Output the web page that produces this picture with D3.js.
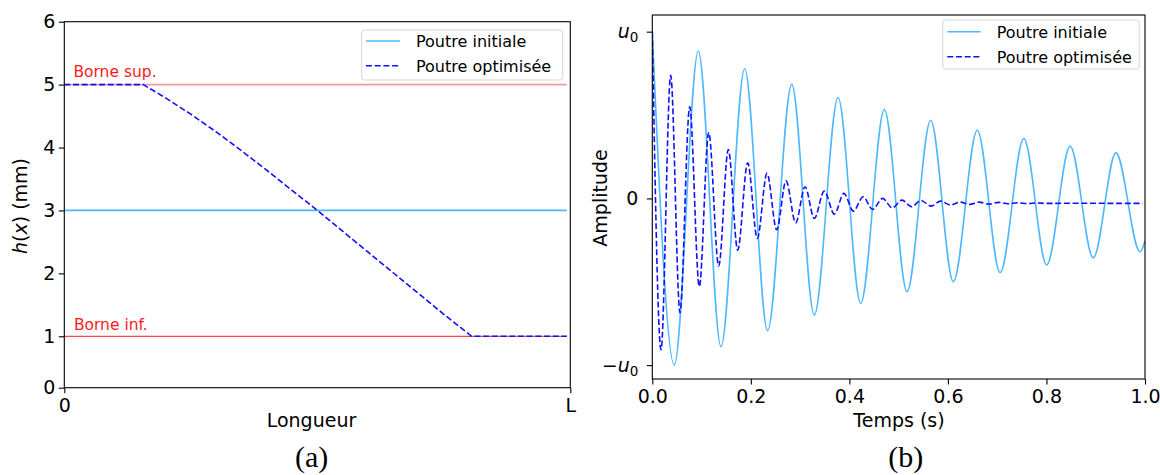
<!DOCTYPE html>
<html><head><meta charset="utf-8">
<script src="https://cdn.jsdelivr.net/npm/d3@7"></script>
<style>body{margin:0;background:#fff} svg text{font-family:"DejaVu Sans",sans-serif}</style>
</head><body><svg id="c" width="1160" height="475"></svg>
<script>
// ---------- Panel (a) data ----------
const lengthPos   = [0, 0.156, 0.20, 0.25, 0.30, 0.35, 0.40, 0.45, 0.505, 0.55, 0.60, 0.65, 0.70, 0.75, 0.805, 0.993];
const hOptimized  = [5, 5, 4.79, 4.53, 4.25, 3.95, 3.64, 3.32, 2.97, 2.67, 2.34, 2.01, 1.68, 1.35, 1.0, 1.0];
const lengthEnds  = [0, 0.993];
const hInitial    = [3, 3];
const boundSup    = 5;
const boundInf    = 1;
const hTicks      = [0, 1, 2, 3, 4, 5, 6];
const lengthTicks = [0, 1];
const lengthTickLabels = ["0", "L"];

// ---------- Panel (b) data ----------
const timeInitial = [0, 0.0447, 0.0934, 0.1394, 0.1875, 0.234, 0.283, 0.3288, 0.377, 0.423, 0.471,
  0.517, 0.565, 0.611, 0.6596, 0.706, 0.754, 0.8005, 0.848, 0.895, 0.941, 0.990, 1.0];
const ampInitial  = [1.0, -0.998, 0.884, -0.889, 0.778, -0.793, 0.684, -0.699, 0.605, -0.629, 0.533,
  -0.559, 0.469, -0.499, 0.409, -0.445, 0.359, -0.399, 0.313, -0.356, 0.273, -0.320, -0.255];
const timeOptimized = [0, 0.0177, 0.0373, 0.0562, 0.0759, 0.0954, 0.1145, 0.1348, 0.1543, 0.1733,
  0.1936, 0.2131, 0.2328, 0.2525, 0.2714, 0.291, 0.310, 0.3288, 0.349, 0.3694, 0.389, 0.408, 0.428,
  0.447, 0.4676, 0.487, 0.507, 0.5265, 0.545, 0.566, 0.585, 0.6056, 0.6245, 0.644, 0.6635, 0.683,
  0.703, 0.722, 0.742, 0.762, 0.78, 0.80, 0.85, 0.90, 0.95, 0.995];
const ampOptimized  = [1.0, -0.908, 0.738, -0.685, 0.549, -0.529, 0.395, -0.405, 0.293, -0.310,
  0.213, -0.240, 0.150, -0.188, 0.105, -0.146, 0.070, -0.120, 0.044, -0.094, 0.030, -0.076, 0.010,
  -0.066, 0.000, -0.056, -0.010, -0.050, -0.012, -0.046, -0.016, -0.040, -0.022, -0.036, -0.022, -0.034,
  -0.024, -0.032, -0.026, -0.031, -0.027, -0.030, -0.029, -0.029, -0.030, -0.030];
const timeTicks = [0, 0.2, 0.4, 0.6, 0.8, 1.0];
const ampTicks  = [-1, 0, 1];
const seriesNames = ["Poutre initiale", "Poutre optimisée"];

const colInit = "#4db8ff", colOpt = "#1010ff";
const svg = d3.select("#c");

function frame(x0, x1, y0, y1) {
  svg.append("rect").attr("x", x0).attr("y", y0).attr("width", x1 - x0).attr("height", y1 - y0)
    .attr("fill", "none").attr("stroke", "#000").attr("stroke-width", 1.1);
}
function styleAxis(g) {
  g.select(".domain").remove();
  g.selectAll(".tick line").attr("stroke", "#000").attr("stroke-width", 1.1);
  g.selectAll(".tick text").attr("fill", "#000").attr("font-size", 19).attr("font-family", "DejaVu Sans");
}
function legend(x0, y0, w, h, rowY, hx0, hx1, tx) {
  const g = svg.append("g");
  g.append("rect").attr("x", x0).attr("y", y0).attr("width", w).attr("height", h).attr("rx", 3)
    .attr("fill", "#fff").attr("fill-opacity", 0.8).attr("stroke", "#d6d6d6").attr("stroke-width", 1);
  seriesNames.forEach((name, i) => {
    const y = rowY[i];
    g.append("line").attr("x1", hx0).attr("x2", hx1).attr("y1", y).attr("y2", y)
      .attr("stroke", i === 0 ? colInit : colOpt).attr("stroke-width", 1.6)
      .attr("stroke-dasharray", i === 0 ? null : "6,2.7");
    g.append("text").attr("x", tx).attr("y", y + 5.8).attr("font-size", 16).attr("fill", "#000").text(name);
  });
}

// ================= Panel (a) =================
const xA = d3.scaleLinear().domain([0, 1]).range([64.3, 570.3]);
const yA = d3.scaleLinear().domain([0, 1, 6]).range([387.7, 336.3, 21.7]);
const lineA = d3.line().x(d => xA(d[0])).y(d => yA(d[1]));

svg.append("path").datum(lengthEnds.map(x => [x, boundSup])).attr("d", lineA)
  .attr("fill", "none").attr("stroke", "#f59a9a").attr("stroke-width", 1.8);
svg.append("path").datum(lengthEnds.map(x => [x, boundInf])).attr("d", lineA)
  .attr("fill", "none").attr("stroke", "#ff4545").attr("stroke-width", 1.3);
svg.append("path").datum(lengthEnds.map((x, i) => [x, hInitial[i]])).attr("d", lineA)
  .attr("fill", "none").attr("stroke", colInit).attr("stroke-width", 1.7);
svg.append("path").datum(lengthPos.map((x, i) => [x, hOptimized[i]])).attr("d", lineA)
  .attr("fill", "none").attr("stroke", colOpt).attr("stroke-width", 1.6).attr("stroke-dasharray", "6,2.7");

svg.append("text").attr("x", xA(0.018)).attr("y", yA(boundSup + 0.12)).attr("font-size", 15.5)
  .attr("fill", "#ff1a1a").text("Borne sup.");
svg.append("text").attr("x", xA(0.019)).attr("y", yA(boundInf + 0.1)).attr("font-size", 15.5)
  .attr("fill", "#ff1a1a").text("Borne inf.");

frame(64.3, 570.3, 21.7, 387.7);
svg.append("g").attr("transform", "translate(64.3,0)")
  .call(d3.axisLeft(yA).tickValues(hTicks).tickFormat(d3.format("d")).tickSize(5.5).tickPadding(3.5))
  .call(styleAxis);
svg.append("g").attr("transform", "translate(0,387.7)")
  .call(d3.axisBottom(xA).tickValues(lengthTicks).tickFormat((d, i) => lengthTickLabels[i]).tickSize(5.5).tickPadding(5))
  .call(styleAxis);

svg.append("text").attr("x", 311.5).attr("y", 427).attr("text-anchor", "middle").attr("font-size", 19).text("Longueur");
const yl = svg.append("text").attr("transform", "translate(27,206) rotate(-90)").attr("text-anchor", "middle").attr("font-size", 19);
yl.append("tspan").attr("font-style", "italic").text("h");
yl.append("tspan").text("(");
yl.append("tspan").attr("font-style", "italic").text("x");
yl.append("tspan").text(") (mm)");

legend(361.7, 30, 201, 50, [41, 65.7], 366, 400, 416);

svg.append("text").attr("x", 311.7).attr("y", 467).attr("text-anchor", "middle")
  .style("font-family", "'Liberation Serif', serif").attr("font-size", 30).text("(a)");

// ================= Panel (b) =================
const xB = d3.scaleLinear().domain([0, 1]).range([652.3, 1145]);
const yB = d3.scaleLinear().domain([-1.083, 1.1]).range([379, 15]);
const lineB = d3.line().x(d => xB(d[0])).y(d => yB(d[1])).curve(d3.curveMonotoneX);

svg.append("defs").append("clipPath").attr("id", "clipB").append("rect")
  .attr("x", 652.3).attr("y", 15).attr("width", 492.7).attr("height", 364);

svg.append("path").datum(timeInitial.map((t, i) => [t, ampInitial[i]])).attr("d", lineB)
  .attr("clip-path", "url(#clipB)")
  .attr("fill", "none").attr("stroke", colInit).attr("stroke-width", 1.6);
svg.append("path").datum(timeOptimized.map((t, i) => [t, ampOptimized[i]])).attr("d", lineB)
  .attr("clip-path", "url(#clipB)")
  .attr("fill", "none").attr("stroke", colOpt).attr("stroke-width", 1.6).attr("stroke-dasharray", "6,2.7");

frame(652.3, 1145, 15, 379);
svg.append("g").attr("transform", "translate(0,379)")
  .call(d3.axisBottom(xB).tickValues(timeTicks).tickFormat(d3.format(".1f")).tickSize(5.5).tickPadding(5))
  .call(styleAxis);
const gy = svg.append("g").attr("transform", "translate(652.3,0)")
  .call(d3.axisLeft(yB).tickValues(ampTicks).tickFormat(() => "").tickSize(5.5).tickPadding(8.5))
  .call(styleAxis);
gy.selectAll(".tick text").each(function (d) {
  const t = d3.select(this);
  if (d === 0) { t.text("0"); return; }
  if (d < 0) t.append("tspan").text("\u2212");
  t.append("tspan").attr("font-style", "italic").text("u");
  t.append("tspan").attr("font-size", 13.5).attr("dy", "0.3em").text("0");
});

svg.append("text").attr("x", 899).attr("y", 427).attr("text-anchor", "middle").attr("font-size", 19).text("Temps (s)");
svg.append("text").attr("transform", "translate(607,198) rotate(-90)").attr("text-anchor", "middle")
  .attr("font-size", 19).text("Amplitude");

legend(942.7, 20, 196.6, 49, [31.7, 56.7], 947.3, 980.7, 996.7);

svg.append("text").attr("x", 905.7).attr("y", 467).attr("text-anchor", "middle")
  .style("font-family", "'Liberation Serif', serif").attr("font-size", 30).text("(b)");
</script></body></html>
